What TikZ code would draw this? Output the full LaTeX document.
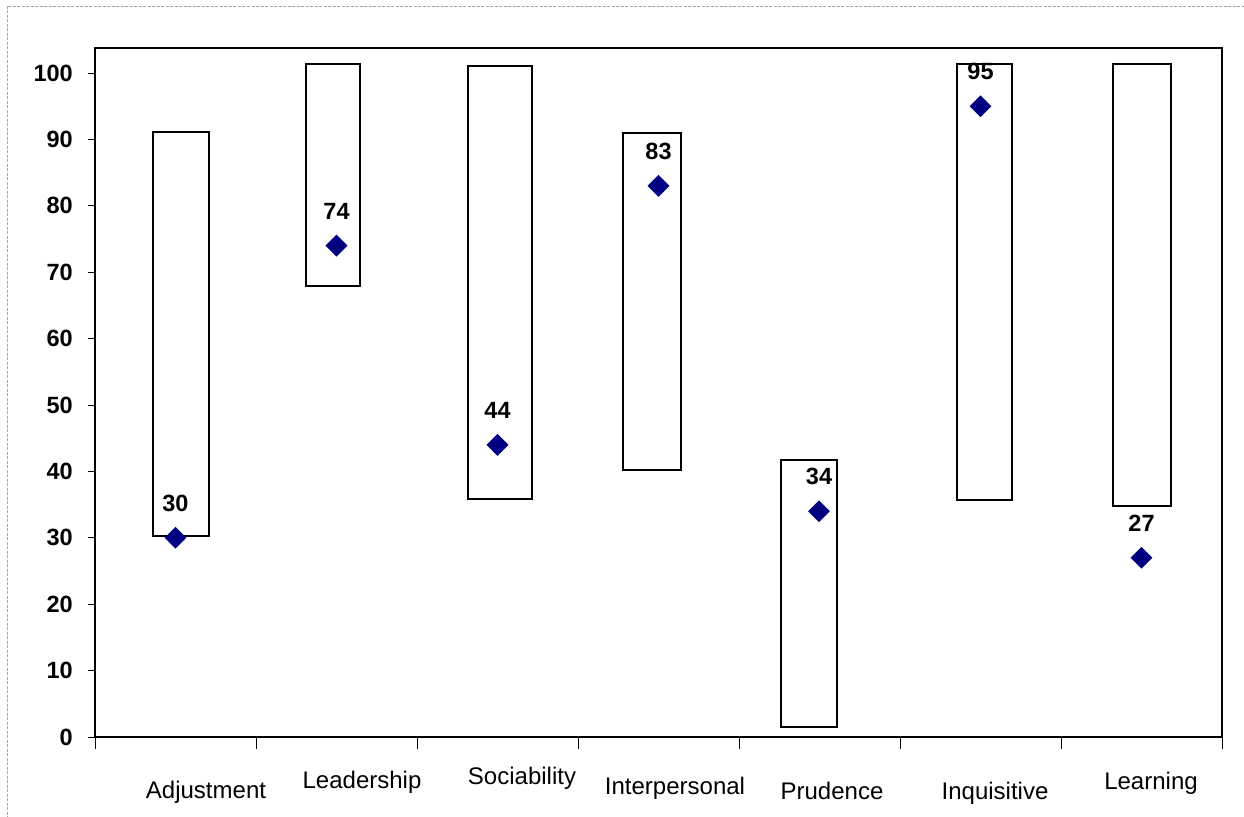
\documentclass[tikz,border=0pt]{standalone}
\usepackage{fontspec}
\setmainfont{Liberation Sans}
\usetikzlibrary{shapes.geometric,positioning}
\definecolor{navy}{RGB}{0,0,128}
\begin{document}
\begin{tikzpicture}[x=1pt, y=-1pt, declare function={vy(\v)=737-6.64*\v;},
  rangebox/.style={draw, line width=2pt},
  point/.style={diamond, fill=navy, inner sep=0pt, minimum width=22pt, minimum height=22pt},
  vlabel/.style={font=\bfseries\fontsize{23.5}{27}\selectfont, inner sep=0pt},
  catlabel/.style={font=\fontsize{24}{28}\selectfont, inner sep=0pt, anchor=base}]

 \useasboundingbox (0,0) rectangle (1244,816);
 \draw[gray!70, line width=0.8pt, dash pattern=on 3pt off 1.5pt] (7,6) rectangle (1270,840);

 % y axis
 \foreach \v in {0,10,...,100} {
        \draw[line width=0.8pt] (88,{vy(\v)}) -- (95,{vy(\v)});
        \node[vlabel, anchor=east] (y\v) at (73,{vy(\v)}) {\v};
 }

 % x axis ticks
 \foreach \i in {0,...,7}
        \draw[line width=0.8pt] (95+161*\i,737) -- (95+161*\i,749);

 % plot area
 \draw[line width=2.3pt] (95,48) rectangle (1222,737);

 % ranges
 \foreach \l/\r/\t/\b in { 153/209/132/536, 306/360/64/286, 468/532/66/499, 623/681/132.5/470,
                           781/837/460/727, 957/1012/64/500, 1113/1171/64/506 } {
        \draw[rangebox] (\l,\t) rectangle (\r,\b);
 }

 % scores
 \foreach \n/\x/\v in { adj/175.5/30, lead/336.5/74, soc/497.5/44, inter/658.5/83,
                        prud/819/34, inq/980.5/95, learn/1141.5/27 } {
        \node[point] (p\n) at (\x,{vy(\v)}) {};
        \node[vlabel, above=15pt of p\n] (l\n) {\v};
 }

 % categories
 \foreach \n/\x/\y/\name in { adj/206/798/Adjustment, lead/362/788/Leadership, soc/522/784/Sociability,
                              inter/675/794/Interpersonal, prud/832/799/Prudence,
                              inq/995/799/Inquisitive, learn/1151/789/Learning } {
        \node[catlabel] (c\n) at (\x,\y) {\name};
 }

\end{tikzpicture}
\end{document}
